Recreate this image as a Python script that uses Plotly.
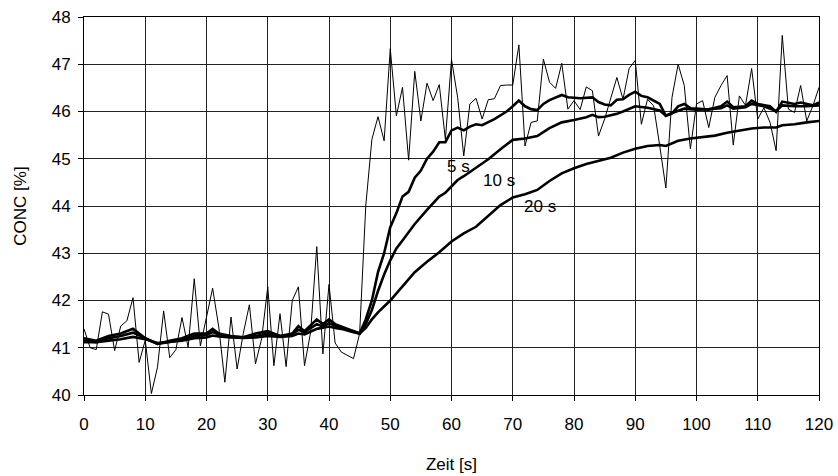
import plotly.graph_objects as go

# Raw concentration signal, sampled every second
t_raw = list(range(0, 121))
conc_raw = [
    41.4, 41.0, 40.96, 41.76, 41.71, 40.94, 41.46, 41.57, 42.06, 40.69,
    41.16, 40.03, 40.59, 41.78, 40.79, 40.96, 41.64, 41.01, 42.46, 41.04,
    41.65, 42.26, 41.44, 40.27, 41.65, 40.55, 41.3, 41.91, 40.66, 41.19,
    42.29, 40.62, 41.72, 40.6, 42.0, 42.29, 40.62, 41.33, 43.14, 40.87,
    42.34, 41.1, 40.91, 40.84, 40.77, 41.3, 44.0, 45.41, 45.89, 45.38,
    47.33, 45.91, 46.51, 44.97, 46.85, 45.8, 46.6, 46.23, 46.57, 45.41,
    47.1, 46.3, 45.06, 46.16, 46.28, 45.84, 46.25, 46.27, 46.55, 46.56,
    46.56, 47.41, 45.27, 45.77, 45.8, 47.11, 46.62, 46.49, 47.02, 46.05,
    46.23, 46.04, 46.52, 46.44, 45.48, 45.84, 46.26, 46.72, 46.26, 46.91,
    47.08, 45.73, 46.26, 46.12, 45.27, 44.38, 46.3, 47.0, 46.55, 45.21,
    46.16, 46.23, 45.66, 46.3, 46.55, 46.76, 45.29, 46.33, 46.13, 46.91,
    45.84, 46.08, 45.77, 45.17, 47.61, 46.05, 45.98, 46.55, 45.8, 46.12,
    46.51,
]

# Filtered signal, 5 s time constant
t_f5 = [0, 2, 4, 6, 8, 10, 12, 14, 16, 18, 20, 21, 22, 24, 26, 28, 30, 32, 34, 35,
        36, 38, 39, 40, 41, 42, 44, 45, 46, 47, 48, 49, 50, 51, 52, 53, 54, 55, 56, 57,
        58, 59, 60, 61, 62, 63, 64, 65, 67, 69, 70, 71, 72, 73, 74, 75, 76, 78, 79, 81,
        83, 84, 85, 86, 87, 88, 89, 90, 91, 92, 94, 95, 96, 97, 98, 99, 100, 102, 104, 105,
        106, 108, 109, 110, 112, 113, 114, 116, 117, 119, 120]
conc_f5 = [41.2, 41.15, 41.25, 41.3, 41.4, 41.2, 41.08, 41.15, 41.2, 41.3, 41.3, 41.4, 41.3,
           41.25, 41.22, 41.3, 41.35, 41.25, 41.3, 41.46, 41.35, 41.6, 41.5, 41.6, 41.5, 41.45,
           41.35, 41.3, 41.6, 42.0, 42.6, 43.0, 43.55, 43.85, 44.2, 44.3, 44.6, 44.75, 45.0,
           45.15, 45.35, 45.35, 45.6, 45.66, 45.6, 45.68, 45.73, 45.71, 45.84, 46.0, 46.11,
           46.23, 46.11, 46.05, 46.03, 46.16, 46.24, 46.35, 46.3, 46.28, 46.3, 46.2, 46.15,
           46.13, 46.25, 46.26, 46.35, 46.42, 46.33, 46.3, 46.16, 45.91, 45.96, 46.11, 46.16,
           46.07, 46.06, 46.04, 46.11, 46.21, 46.09, 46.11, 46.23, 46.16, 46.11, 45.99, 46.21,
           46.16, 46.19, 46.13, 46.19]

# Filtered signal, 10 s time constant
t_f10 = [0, 2, 4, 6, 8, 10, 12, 14, 16, 18, 20, 21, 22, 24, 26, 28, 30, 32, 34, 35,
         36, 38, 39, 40, 41, 42, 44, 45, 46, 47, 48, 49, 50, 51, 52, 54, 56, 58, 59, 60,
         61, 62, 63, 64, 66, 68, 70, 72, 74, 76, 78, 80, 82, 83, 84, 85, 87, 88, 90, 92,
         94, 95, 96, 98, 100, 102, 104, 105, 106, 108, 109, 111, 112, 113, 114, 116, 118, 120]
conc_f10 = [41.15, 41.12, 41.2, 41.25, 41.32, 41.2, 41.08, 41.12, 41.17, 41.25, 41.27, 41.33,
            41.28, 41.23, 41.22, 41.25, 41.3, 41.25, 41.28, 41.38, 41.33, 41.5, 41.45, 41.52,
            41.47, 41.42, 41.35, 41.3, 41.5, 41.8, 42.2, 42.55, 42.85, 43.1, 43.27, 43.62,
            43.92, 44.2, 44.28, 44.42, 44.55, 44.63, 44.72, 44.8, 44.99, 45.2, 45.4, 45.43,
            45.48, 45.65, 45.77, 45.82, 45.88, 45.93, 45.88, 45.89, 45.95, 46.0, 46.11, 46.08,
            46.02, 45.91, 45.97, 46.06, 46.04, 46.05, 46.07, 46.13, 46.06, 46.09, 46.16, 46.11,
            46.06, 46.01, 46.13, 46.11, 46.11, 46.13]

# Filtered signal, 20 s time constant
t_f20 = [0, 2, 4, 6, 8, 10, 12, 14, 16, 18, 20, 21, 22, 24, 26, 28, 30, 32, 34, 35,
         36, 38, 40, 41, 42, 44, 45, 46, 47, 48, 50, 52, 54, 56, 58, 60, 62, 64, 66, 68,
         70, 72, 74, 76, 78, 80, 82, 84, 86, 88, 90, 92, 94, 95, 97, 99, 101, 103, 105, 107,
         109, 111, 113, 114, 116, 118, 120]
conc_f20 = [41.12, 41.12, 41.15, 41.18, 41.23, 41.18, 41.1, 41.12, 41.15, 41.2, 41.22, 41.26,
            41.24, 41.22, 41.21, 41.22, 41.25, 41.23, 41.25, 41.3, 41.28, 41.4, 41.45, 41.42,
            41.4, 41.33, 41.3, 41.42, 41.6, 41.75, 42.0, 42.3, 42.6, 42.82, 43.02, 43.25, 43.42,
            43.56, 43.78, 44.02, 44.18, 44.25, 44.34, 44.53, 44.69, 44.8, 44.89, 44.95, 45.02,
            45.13, 45.21, 45.27, 45.29, 45.27, 45.38, 45.43, 45.46, 45.49, 45.55, 45.59, 45.64,
            45.66, 45.66, 45.71, 45.73, 45.77, 45.8]

# Curve labels: text, time position, concentration position
label_text = ["5 s", "10 s", "20 s"]
label_t = [61.2, 67.8, 74.4]
label_c = [44.83, 44.55, 43.98]

x_ticks = list(range(0, 121, 10))
y_ticks = list(range(40, 49))

FONT = "Liberation Sans, Arial, Helvetica, sans-serif"
FSIZE = 17

fig = go.Figure()
fig.add_trace(go.Scatter(x=t_raw, y=conc_raw, mode="lines",
                         line=dict(color="black", width=1), showlegend=False))
for tt, cc in [(t_f20, conc_f20), (t_f10, conc_f10), (t_f5, conc_f5)]:
    fig.add_trace(go.Scatter(x=tt, y=cc, mode="lines",
                             line=dict(color="black", width=2.6), showlegend=False))

for txt, tx, cy in zip(label_text, label_t, label_c):
    fig.add_annotation(x=tx, y=cy, text=txt, showarrow=False,
                       font=dict(family=FONT, size=FSIZE, color="black"))

axis_common = dict(
    showline=True, linecolor="black", linewidth=1, mirror=True,
    showgrid=True, gridcolor="#222222", gridwidth=1,
    ticks="outside", ticklen=5, tickcolor="black",
    zeroline=False, automargin=False,
    tickfont=dict(family=FONT, size=FSIZE, color="black"),
)

fig.update_xaxes(range=[0, 120], tickvals=x_ticks, ticktext=[str(v) for v in x_ticks],
                 ticklabelstandoff=9,
                 title=dict(text="Zeit [s]", font=dict(family=FONT, size=FSIZE, color="black"),
                            standoff=24),
                 **axis_common)
fig.update_yaxes(range=[40, 48], tickvals=y_ticks, ticktext=[str(v) for v in y_ticks],
                 ticklabelstandoff=4,
                 title=dict(text="CONC [%]", font=dict(family=FONT, size=FSIZE, color="black"),
                            standoff=20),
                 **axis_common)

fig.update_layout(
    width=838, height=476,
    margin=dict(l=84, r=19, t=17, b=81),
    paper_bgcolor="white", plot_bgcolor="white",
    font=dict(family=FONT, size=FSIZE, color="black"),
)

fig.write_html("out.html")
